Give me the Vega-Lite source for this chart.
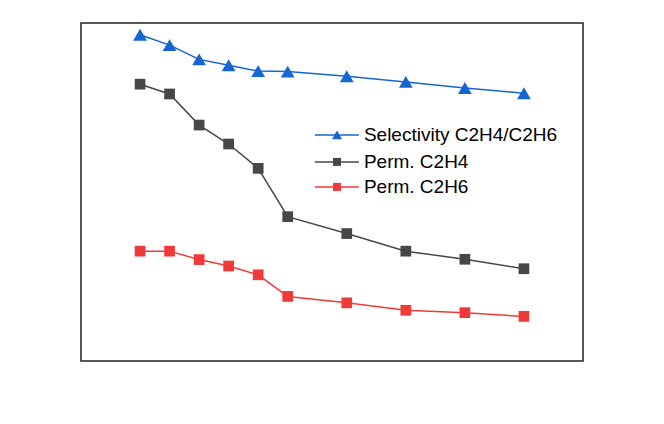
{
  "$schema": "https://vega.github.io/schema/vega-lite/v6.json",
  "width": 502,
  "height": 338,
  "autosize": {"type": "none"},
  "padding": {"left": 81, "top": 23, "right": 81, "bottom": 63},
  "background": "white",
  "config": {
    "view": {"stroke": "#222222", "strokeWidth": 1.5},
    "axis": {"grid": false, "domainColor": "#222222", "domainWidth": 1.5, "tickColor": "#222222", "tickWidth": 1.5, "labelFont": "Liberation Sans", "labelFontSize": 21, "labelColor": "#000000", "titleFont": "Liberation Sans", "titleFontSize": 22, "titleFontWeight": "normal", "titleColor": "#000000"}
  },
  "datasets": {
    "pts": [
      {"T": -30, "series": "Selectivity C2H4/C2H6", "side": "right", "kind": "data", "value": 2.51},
      {"T": -20, "series": "Selectivity C2H4/C2H6", "side": "right", "kind": "data", "value": 2.43},
      {"T": -10, "series": "Selectivity C2H4/C2H6", "side": "right", "kind": "data", "value": 2.32},
      {"T": 0, "series": "Selectivity C2H4/C2H6", "side": "right", "kind": "data", "value": 2.275},
      {"T": 10, "series": "Selectivity C2H4/C2H6", "side": "right", "kind": "data", "value": 2.23},
      {"T": 20, "series": "Selectivity C2H4/C2H6", "side": "right", "kind": "data", "value": 2.226},
      {"T": 40, "series": "Selectivity C2H4/C2H6", "side": "right", "kind": "data", "value": 2.19},
      {"T": 60, "series": "Selectivity C2H4/C2H6", "side": "right", "kind": "data", "value": 2.147},
      {"T": 80, "series": "Selectivity C2H4/C2H6", "side": "right", "kind": "data", "value": 2.1},
      {"T": 100, "series": "Selectivity C2H4/C2H6", "side": "right", "kind": "data", "value": 2.06},
      {"T": -30, "series": "Perm. C2H4", "side": "left", "kind": "data", "value": 8.19},
      {"T": -20, "series": "Perm. C2H4", "side": "left", "kind": "data", "value": 7.9},
      {"T": -10, "series": "Perm. C2H4", "side": "left", "kind": "data", "value": 6.98},
      {"T": 0, "series": "Perm. C2H4", "side": "left", "kind": "data", "value": 6.42},
      {"T": 10, "series": "Perm. C2H4", "side": "left", "kind": "data", "value": 5.7},
      {"T": 20, "series": "Perm. C2H4", "side": "left", "kind": "data", "value": 4.27},
      {"T": 40, "series": "Perm. C2H4", "side": "left", "kind": "data", "value": 3.77},
      {"T": 60, "series": "Perm. C2H4", "side": "left", "kind": "data", "value": 3.25},
      {"T": 80, "series": "Perm. C2H4", "side": "left", "kind": "data", "value": 3.01},
      {"T": 100, "series": "Perm. C2H4", "side": "left", "kind": "data", "value": 2.73},
      {"T": -30, "series": "Perm. C2H6", "side": "left", "kind": "data", "value": 3.25},
      {"T": -20, "series": "Perm. C2H6", "side": "left", "kind": "data", "value": 3.25},
      {"T": -10, "series": "Perm. C2H6", "side": "left", "kind": "data", "value": 3.0},
      {"T": 0, "series": "Perm. C2H6", "side": "left", "kind": "data", "value": 2.81},
      {"T": 10, "series": "Perm. C2H6", "side": "left", "kind": "data", "value": 2.55},
      {"T": 20, "series": "Perm. C2H6", "side": "left", "kind": "data", "value": 1.91},
      {"T": 40, "series": "Perm. C2H6", "side": "left", "kind": "data", "value": 1.72},
      {"T": 60, "series": "Perm. C2H6", "side": "left", "kind": "data", "value": 1.5},
      {"T": 80, "series": "Perm. C2H6", "side": "left", "kind": "data", "value": 1.43},
      {"T": 100, "series": "Perm. C2H6", "side": "left", "kind": "data", "value": 1.32},
      {"T": 29.2, "series": "Selectivity C2H4/C2H6", "side": "key", "kind": "keyline", "value": 6.69},
      {"T": 44.1, "series": "Selectivity C2H4/C2H6", "side": "key", "kind": "keyline", "value": 6.69},
      {"T": 29.2, "series": "Perm. C2H4", "side": "key", "kind": "keyline", "value": 5.89},
      {"T": 44.1, "series": "Perm. C2H4", "side": "key", "kind": "keyline", "value": 5.89},
      {"T": 29.2, "series": "Perm. C2H6", "side": "key", "kind": "keyline", "value": 5.15},
      {"T": 44.1, "series": "Perm. C2H6", "side": "key", "kind": "keyline", "value": 5.15},
      {"T": 36.7, "series": "Selectivity C2H4/C2H6", "side": "key", "kind": "keytri", "value": 6.69},
      {"T": 36.7, "series": "Perm. C2H4", "side": "key", "kind": "keysq", "value": 5.89},
      {"T": 36.7, "series": "Perm. C2H6", "side": "key", "kind": "keysq", "value": 5.15},
      {"T": 45.8, "series": "Selectivity C2H4/C2H6", "side": "key", "kind": "keytext", "value": 6.69},
      {"T": 45.8, "series": "Perm. C2H4", "side": "key", "kind": "keytext", "value": 5.89},
      {"T": 45.8, "series": "Perm. C2H6", "side": "key", "kind": "keytext", "value": 5.15}
    ]
  },
  "layer": [
    {
      "layer": [
        {
          "data": {"name": "pts"},
          "transform": [{"filter": "datum.side === 'left'"}],
          "mark": {"type": "line", "strokeWidth": 1.5},
          "encoding": {
            "x": {"field": "T", "type": "quantitative", "scale": {"domain": [-50, 120], "nice": false, "zero": false},
              "axis": {"values": [-40, -20, 0, 20, 40, 60, 80, 100, 120], "tickSize": 5, "labelPadding": 9, "labelFlush": false, "title": "Temperature (oC)", "titlePadding": 4}},
            "y": {"field": "value", "type": "quantitative", "scale": {"domain": [0, 10], "nice": false},
              "axis": {"values": [0, 2, 4, 6, 8, 10], "tickSize": 6, "labelPadding": 6, "title": "Permeance (10-7(mol/(m2.s.Pa)))", "titlePadding": 5}},
            "color": {"field": "series", "type": "nominal", "scale": {"domain": ["Selectivity C2H4/C2H6", "Perm. C2H4", "Perm. C2H6"], "range": ["#1565d2", "#474747", "#f03a3a"]}, "legend": null}
          }
        },
        {
          "data": {"name": "pts"},
          "transform": [{"filter": "datum.side === 'left'"}],
          "mark": {"type": "point", "shape": "square", "filled": true, "size": 115, "opacity": 1},
          "encoding": {
            "x": {"field": "T", "type": "quantitative", "axis": null},
            "y": {"field": "value", "type": "quantitative", "axis": null},
            "color": {"field": "series", "type": "nominal", "legend": null}
          }
        },
        {
          "data": {"name": "pts"},
          "transform": [{"filter": "datum.kind === 'keyline'"}],
          "mark": {"type": "line", "strokeWidth": 1.5},
          "encoding": {
            "x": {"field": "T", "type": "quantitative", "axis": null},
            "y": {"field": "value", "type": "quantitative", "axis": null},
            "color": {"field": "series", "type": "nominal", "legend": null}
          }
        },
        {
          "data": {"name": "pts"},
          "transform": [{"filter": "datum.kind === 'keysq'"}],
          "mark": {"type": "point", "shape": "square", "filled": true, "size": 64, "opacity": 1},
          "encoding": {
            "x": {"field": "T", "type": "quantitative", "axis": null},
            "y": {"field": "value", "type": "quantitative", "axis": null},
            "color": {"field": "series", "type": "nominal", "legend": null}
          }
        },
        {
          "data": {"name": "pts"},
          "transform": [{"filter": "datum.kind === 'keytri'"}],
          "mark": {"type": "point", "shape": "triangle-up", "filled": true, "size": 100, "opacity": 1},
          "encoding": {
            "x": {"field": "T", "type": "quantitative", "axis": null},
            "y": {"field": "value", "type": "quantitative", "axis": null},
            "color": {"field": "series", "type": "nominal", "legend": null}
          }
        },
        {
          "data": {"name": "pts"},
          "transform": [{"filter": "datum.kind === 'keytext'"}],
          "mark": {"type": "text", "align": "left", "baseline": "middle", "font": "Liberation Sans", "fontSize": 19, "color": "#000000"},
          "encoding": {
            "x": {"field": "T", "type": "quantitative", "axis": null},
            "y": {"field": "value", "type": "quantitative", "axis": null},
            "text": {"field": "series", "type": "nominal"}
          }
        }
      ]
    },
    {
      "layer": [
        {
          "data": {"name": "pts"},
          "transform": [{"filter": "datum.side === 'right'"}],
          "mark": {"type": "line", "strokeWidth": 1.5},
          "encoding": {
            "x": {"field": "T", "type": "quantitative", "axis": null},
            "y": {"field": "value", "type": "quantitative", "scale": {"domain": [0, 2.6], "nice": false},
              "axis": {"orient": "right", "title": "Selectivity", "values": [0, 0.5, 1, 1.5, 2, 2.5], "format": ".1f", "tickSize": 5, "labelPadding": 6, "titlePadding": 16}},
            "color": {"field": "series", "type": "nominal", "legend": null}
          }
        },
        {
          "data": {"name": "pts"},
          "transform": [{"filter": "datum.side === 'right'"}],
          "mark": {"type": "point", "shape": "triangle-up", "filled": true, "size": 190, "opacity": 1},
          "encoding": {
            "x": {"field": "T", "type": "quantitative", "axis": null},
            "y": {"field": "value", "type": "quantitative", "axis": null},
            "color": {"field": "series", "type": "nominal", "legend": null}
          }
        }
      ]
    }
  ],
  "resolve": {"scale": {"y": "independent"}}
}
